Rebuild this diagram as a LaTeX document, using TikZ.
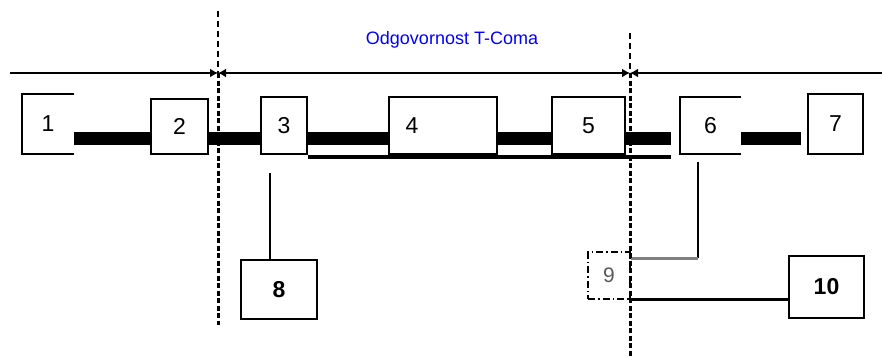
\documentclass[tikz,border=0pt]{standalone}
\usepackage{fontspec}
\setmainfont{Liberation Sans}
\usetikzlibrary{arrows.meta}
\begin{document}
\begin{tikzpicture}[x=1pt,y=-1pt,
  box/.style={draw,line width=1.7pt,inner sep=0pt,font=\fontsize{23}{23}\selectfont},
  open/.style={inner sep=0pt,font=\fontsize{23}{23}\selectfont},
  heavy/.style={draw,line width=2.8pt,inner sep=0pt,font=\bfseries\fontsize{23}{23}\selectfont},
  bus/.style={line width=13pt},
  wire/.style={line width=2.6pt},
  dim/.style={line width=2pt},
  cut/.style={line width=3pt,dash pattern=on 5pt off 2.5pt},
  cuttop/.style={line width=1.5pt,dash pattern=on 6pt off 4pt}]
\useasboundingbox (0,0) rectangle (882,356);
%cable with elements
\node[open,minimum width=52,minimum height=60] (b1) at (48,124) {1};
\node[box,minimum width=57,minimum height=55] (b2) at (179.5,126.5) {2};
\node[box,minimum width=46,minimum height=57] (b3) at (284,125.5) {3};
\node[box,minimum width=108,minimum height=57] (b4) at (443,125.5) {};
\node[open] (n4) at ([xshift=-31]b4.center) {4};
\node[box,minimum width=73,minimum height=57] (b5) at (588.5,125.5) {5};
\node[open,minimum width=61,minimum height=57] (b6) at (710.5,125.5) {6};
\node[box,minimum width=55,minimum height=60] (b7) at (835.5,124) {7};
\draw[line width=1.7pt] (b1.north east)--(b1.north west)--(b1.south west)--(b1.south east);
\draw[line width=1.7pt] (b6.north east)--(b6.north west)--(b6.south west)--(b6.south east);
\coordinate (y) at (0,138);
\coordinate (e5) at (671,138);
\draw[bus] (b1.east|-y)--(b2.west|-y);
\draw[bus] (b2.east|-y)--(b3.west|-y);
\draw[bus] (b3.east|-y)--(b4.west|-y);
\draw[bus] (b4.east|-y)--(b5.west|-y);
\draw[bus] (b5.east|-y)--(e5);
\draw[bus] (b6.east|-y)--(801,138);
\draw[line width=3.5pt] (b3.east|-0,157)--(e5|-0,157);
%lower boxes
\node[heavy,minimum width=76,minimum height=59] (b8) at (279,289.5) {8};
\node[draw,line width=1.2pt,dash pattern=on 7pt off 3pt on 1.5pt off 3pt,inner sep=0pt,
  minimum width=42,minimum height=47,font=\fontsize{21}{21}\selectfont,text=black!65] (b9) at (609,275.5) {9};
\node[heavy,minimum width=75,minimum height=62] (b10) at (826.5,287) {10};
\coordinate (c3) at (270,173);
\draw[wire] (c3)--(c3|-b8.north);
\coordinate (c6) at (698,162);
\coordinate (k) at (698,258);
\draw[wire] (c6)--(k);
\draw[line width=3pt,black!50] (k)--(b9.east|-k);
\draw[wire] (b9.south east)--(b9.south east-|b10.west);
%limits of responsibility
\coordinate (L) at (10,73);
\coordinate (m1) at (218,73);
\coordinate (m2) at (630,73);
\coordinate (R) at (882,73);
\draw[dim,-{Latex[length=8pt,width=9pt]}] (L)--(m1);
\draw[dim,{Latex[length=8pt,width=9pt]}-{Latex[length=8pt,width=9pt]}] (m1)--(m2);
\draw[dim,{Latex[length=8pt,width=9pt]}-] (m2)--(R);
\draw[cuttop] (218,11)--(m1);
\draw[cut] (m1)--(218,325);
\draw[cuttop] (630,33)--(m2);
\draw[cut] (m2)--(630,356);
\node[text=blue,font=\fontsize{18}{18}\selectfont] (resp) at (452,40) {Odgovornost T-Coma};
\end{tikzpicture}
\end{document}
